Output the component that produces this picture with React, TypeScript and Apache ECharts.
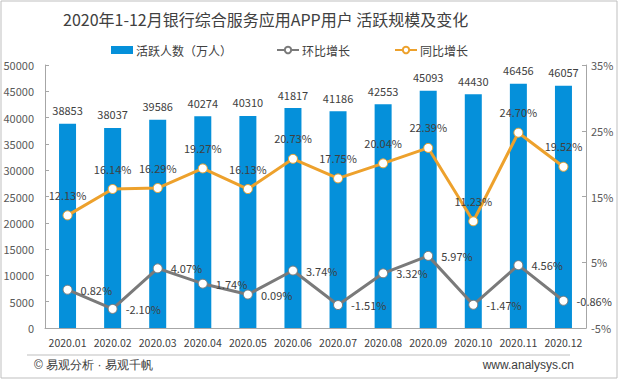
import React, { useEffect, useRef } from "react";
import * as echarts from "echarts";

const categories = ["2020.01", "2020.02", "2020.03", "2020.04", "2020.05", "2020.06", "2020.07", "2020.08", "2020.09", "2020.10", "2020.11", "2020.12"];
const activeUsers = [38853, 38037, 39586, 40274, 40310, 41817, 41186, 42553, 45093, 44430, 46456, 46057];
const momGrowth = [0.82, -2.10, 4.07, 1.74, 0.09, 3.74, -1.51, 3.32, 5.97, -1.47, 4.56, -0.86];
const yoyGrowth = [12.13, 16.14, 16.29, 19.27, 16.13, 20.73, 17.75, 20.04, 22.39, 11.23, 24.70, 19.52];

const FONT = "'Noto Sans CJK SC', 'Noto Sans', sans-serif";

export default function App() {
  const ref = useRef<HTMLDivElement>(null);
  useEffect(() => {
    if (!ref.current) return;
    const chart = echarts.init(ref.current, undefined, { renderer: "svg" });
    chart.setOption({
      animation: false,
      backgroundColor: "#ffffff",
      textStyle: { fontFamily: FONT },
      title: {
        text: "2020年1-12月银行综合服务应用APP用户 活跃规模及变化",
        left: 58,
        top: 6,
        textStyle: { fontSize: 16, fontWeight: "normal", color: "#404040", fontFamily: FONT },
      },
      legend: {
        top: 39,
        left: 106,
        itemGap: 44,
        itemWidth: 22,
        itemHeight: 8,
        textStyle: { fontSize: 12, color: "#404040", fontFamily: FONT, padding: [0, 0, 0, -2] },
        data: [
          { name: "活跃人数（万人）", icon: "rect" },
          { name: "环比增长" },
          { name: "同比增长" },
        ],
      },
      grid: { left: 45, right: 32, top: 65, bottom: 51 },
      xAxis: {
        type: "category",
        data: categories,
        axisLine: { lineStyle: { color: "#a6a6a6" } },
        axisTick: { show: false },
        axisLabel: { color: "#404040", fontSize: 10.5, margin: 9, interval: 0, fontFamily: FONT },
      },
      yAxis: [
        {
          type: "value",
          min: 0,
          max: 50000,
          interval: 5000,
          axisLine: { show: true, lineStyle: { color: "#a6a6a6" } },
          axisTick: { show: true, inside: true, length: 4, lineStyle: { color: "#a6a6a6" } },
          splitLine: { show: false },
          axisLabel: { color: "#595959", fontSize: 11, margin: 11, formatter: (v: number) => String(v), fontFamily: FONT },
        },
        {
          type: "value",
          min: -5,
          max: 35,
          interval: 10,
          axisLine: { show: true, lineStyle: { color: "#a6a6a6" } },
          axisTick: { show: true, inside: true, length: 4, lineStyle: { color: "#a6a6a6" } },
          splitLine: { show: false },
          axisLabel: { color: "#595959", fontSize: 11, margin: 5, formatter: "{value}%", fontFamily: FONT },
        },
      ],
      series: [
        {
          name: "活跃人数（万人）",
          type: "bar",
          data: activeUsers,
          barWidth: 17,
          itemStyle: { color: "#0590DA" },
          label: { show: true, position: "top", distance: 8, color: "#404040", fontSize: 11, fontFamily: FONT },
        },
        {
          name: "环比增长",
          type: "line",
          yAxisIndex: 1,
          data: momGrowth,
          symbol: "circle",
          symbolSize: 9,
          lineStyle: { color: "#7a7a7a", width: 3 },
          itemStyle: { color: "#ffffff", borderColor: "#7a7a7a", borderWidth: 1 },
          label: { show: true, position: "right", distance: 8, color: "#404040", fontSize: 11, formatter: (p: any) => p.value.toFixed(2) + "%", fontFamily: FONT },
        },
        {
          name: "同比增长",
          type: "line",
          yAxisIndex: 1,
          data: yoyGrowth,
          symbol: "circle",
          symbolSize: 9,
          lineStyle: { color: "#EDA12C", width: 3 },
          itemStyle: { color: "#ffffff", borderColor: "#EDA12C", borderWidth: 1 },
          label: { show: true, position: "top", distance: 10, color: "#404040", fontSize: 11, formatter: (p: any) => p.value.toFixed(2) + "%", fontFamily: FONT },
        },
      ],
      graphic: [
        { type: "line", shape: { x1: 27, y1: 355, x2: 570, y2: 355 }, style: { stroke: "#bfbfbf", lineWidth: 1 } },
        { type: "text", left: 34, top: 359, style: { text: "© 易观分析 · 易观千帆", fontSize: 12, fill: "#404040", font: "12px " + FONT } },
        { type: "text", right: 44, top: 359, style: { text: "www.analysys.cn", fontSize: 12, fill: "#404040", font: "12px " + FONT } },
        { type: "rect", shape: { x: 1, y: 1, width: 616, height: 377 }, style: { fill: "none", stroke: "#bfbfbf", lineWidth: 1 } },
      ],
    });
    return () => chart.dispose();
  }, []);
  return (
    <div style={{ position: "fixed", left: 0, top: 0, width: 618, height: 379 }}>
      <div ref={ref} style={{ width: 618, height: 379 }} />
    </div>
  );
}
